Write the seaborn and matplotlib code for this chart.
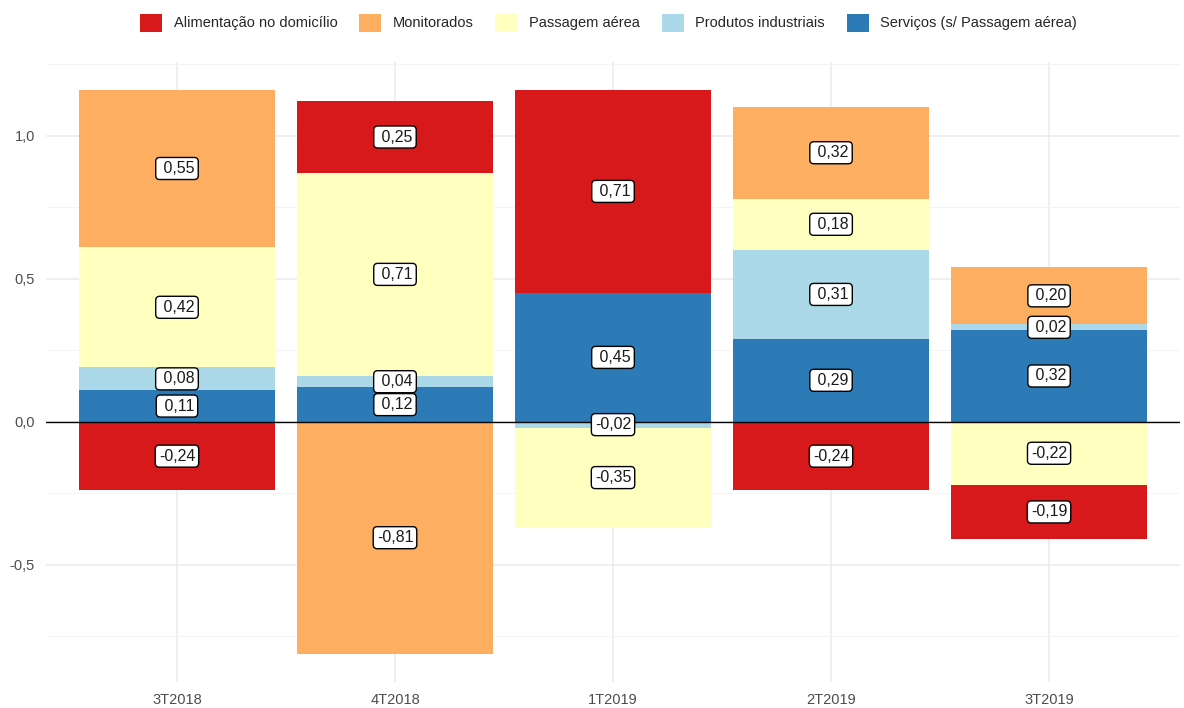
import numpy as np
import matplotlib
matplotlib.use("Agg")
import matplotlib.pyplot as plt
import matplotlib.patches as mpatches
from matplotlib.ticker import FuncFormatter, MultipleLocator
import pandas as pd
import seaborn as sns

# dados (contribuição para o IPCA, p.p.)
trimestres = ["3T2018", "4T2018", "1T2019", "2T2019", "3T2019"]
grupos = ["Alimentação no domicílio", "Monitorados", "Passagem aérea",
          "Produtos industriais", "Serviços (s/ Passagem aérea)"]
alimentacao = [-0.24, 0.25, 0.71, -0.24, -0.19]
monitorados = [0.55, -0.81, 0.00, 0.32, 0.20]
passagem = [0.42, 0.71, -0.35, 0.18, -0.22]
industriais = [0.08, 0.04, -0.02, 0.31, 0.02]
servicos = [0.11, 0.12, 0.45, 0.29, 0.32]
cores = ["#D7191C", "#FDAE61", "#FFFFBF", "#ABD9E9", "#2C7BB6"]

valores = {
    grupos[0]: alimentacao,
    grupos[1]: monitorados,
    grupos[2]: passagem,
    grupos[3]: industriais,
    grupos[4]: servicos,
}
df = pd.DataFrame(valores, index=trimestres)

sns.set_theme(style="white")
plt.rcParams["font.family"] = ["Liberation Sans", "DejaVu Sans"]

fig = plt.figure(figsize=(11.84, 7.08), dpi=100)
ax = fig.add_axes([0.039, 0.037, 0.9575, 0.876])

# empilhamento: de baixo para cima segue a ordem inversa da legenda
ordem = grupos[::-1]
pos = df[ordem].clip(lower=0).cumsum(axis=1)
neg = df[ordem].clip(upper=0).cumsum(axis=1)

# desenha do segmento mais externo para o mais interno (sobreposição)
for g in grupos:
    c = cores[grupos.index(g)]
    for acum in (pos, neg):
        d = pd.DataFrame({"trimestre": trimestres, "v": acum[g].values})
        sns.barplot(data=d, x="trimestre", y="v", order=trimestres, color=c,
                    width=0.9, linewidth=0, saturation=1, ax=ax, zorder=2)

# rótulos no meio de cada segmento
for i, t in enumerate(trimestres):
    base_p, base_n = 0.0, 0.0
    for g in ordem:
        v = df.loc[t, g]
        if v == 0:
            continue
        if v > 0:
            meio = base_p + v / 2
            base_p += v
        else:
            meio = base_n + v / 2
            base_n += v
        txt = f"{v: .2f}".replace(".", ",")
        ax.text(i, meio, txt, ha="center", va="center", fontsize=11.5,
                color="#1a1a1a", zorder=5,
                bbox=dict(boxstyle="round,pad=0.22,rounding_size=0.25",
                          fc="white", ec="black", lw=1))

ax.axhline(0, color="black", lw=1, zorder=3)

ax.set_xlim(-0.6, 4.6)
ax.set_ylim(-0.9085, 1.2585)
ax.yaxis.set_major_locator(MultipleLocator(0.5))
ax.yaxis.set_minor_locator(MultipleLocator(0.25))
ax.yaxis.set_major_formatter(FuncFormatter(lambda y, p: f"{y:.1f}".replace(".", ",")))
ax.grid(True, which="major", axis="both", color="#EBEBEB", lw=1.1, zorder=0)
ax.grid(True, which="minor", axis="y", color="#F3F3F3", lw=0.6, zorder=0)
ax.set_axisbelow(True)
for s in ax.spines.values():
    s.set_visible(False)
ax.tick_params(axis="both", which="both", length=0, labelsize=10.5,
               labelcolor="#4D4D4D", pad=8)
ax.set_xlabel("")
ax.set_ylabel("")

handles = [mpatches.Patch(facecolor=c, edgecolor="none", label=g)
           for g, c in zip(grupos, cores)]
fig.legend(handles=handles, loc="center", bbox_to_anchor=(0.514, 0.968),
           ncol=5, frameon=False, fontsize=10.5, handlelength=1.5,
           handleheight=1.5, handletextpad=0.8, columnspacing=1.5)

fig.savefig("out.png", dpi=100)
